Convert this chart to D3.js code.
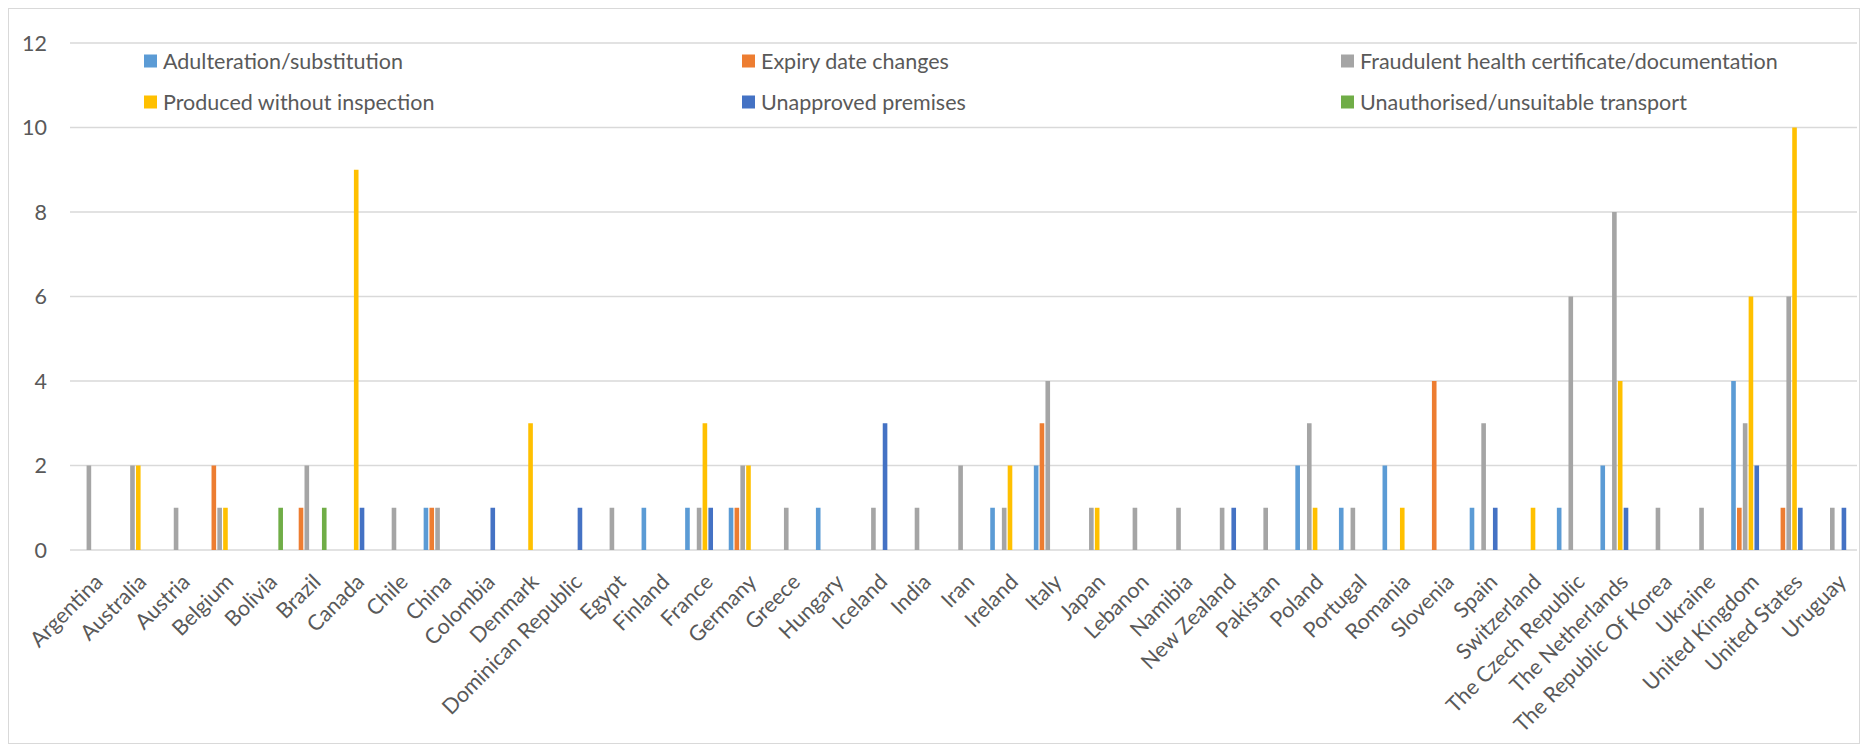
<!DOCTYPE html>
<html>
<head>
<meta charset="utf-8">
<script src="https://cdn.jsdelivr.net/npm/d3@7"></script>
<style>
  body { margin: 0; background: #fff; }
  svg text { font-family: Lato, "Liberation Sans", sans-serif; fill: #595959; font-size: 21.5px; }
</style>
</head>
<body>
<svg id="chart" width="1868" height="749"></svg>
<script>
const countries = ["Argentina", "Australia", "Austria", "Belgium", "Bolivia", "Brazil", "Canada", "Chile", "China", "Colombia", "Denmark", "Dominican Republic", "Egypt", "Finland", "France", "Germany", "Greece", "Hungary", "Iceland", "India", "Iran", "Ireland", "Italy", "Japan", "Lebanon", "Namibia", "New Zealand", "Pakistan", "Poland", "Portugal", "Romania", "Slovenia", "Spain", "Switzerland", "The Czech Republic", "The Netherlands", "The Republic Of Korea", "Ukraine", "United Kingdom", "United States", "Uruguay"];

const seriesNames = ["Adulteration/substitution", "Expiry date changes", "Fraudulent health certificate/documentation", "Produced without inspection", "Unapproved premises", "Unauthorised/unsuitable transport"];
const seriesColors = ["#5b9bd5", "#ed7d31", "#a5a5a5", "#ffc000", "#4472c4", "#70ad47"];

// one value per country, same order as countries
const adulteration = [0,0,0,0,0,0,0,0,1,0,0,0,0,1,1,1,0,1,0,0,0,1,2,0,0,0,0,0,2,1,2,0,1,0,1,2,0,0,4,0,0];
const expiry       = [0,0,0,2,0,1,0,0,1,0,0,0,0,0,0,1,0,0,0,0,0,0,3,0,0,0,0,0,0,0,0,4,0,0,0,0,0,0,1,1,0];
const fraudulent   = [2,2,1,1,0,2,0,1,1,0,0,0,1,0,1,2,1,0,1,1,2,1,4,1,1,1,1,1,3,1,0,0,3,0,6,8,1,1,3,6,1];
const noInspection = [0,2,0,1,0,0,9,0,0,0,3,0,0,0,3,2,0,0,0,0,0,2,0,1,0,0,0,0,1,0,1,0,0,1,0,4,0,0,6,10,0];
const unapproved   = [0,0,0,0,0,0,1,0,0,1,0,1,0,0,1,0,0,0,3,0,0,0,0,0,0,0,1,0,0,0,0,0,1,0,0,1,0,0,2,1,1];
const transport    = [0,0,0,0,1,1,0,0,0,0,0,0,0,0,0,0,0,0,0,0,0,0,0,0,0,0,0,0,0,0,0,0,0,0,0,0,0,0,0,0,0];

const yTicks = [0, 2, 4, 6, 8, 10, 12];

const allSeries = [adulteration, expiry, fraudulent, noInspection, unapproved, transport];
const rows = countries.map((c, i) => ({
  country: c,
  values: allSeries.map((s, k) => ({ key: k, value: s[i] }))
}));

const svg = d3.select("#chart");
const width = 1868, height = 749;
const plotLeft = 70, plotRight = 1857, plotTop = 43, plotBottom = 550;

// chart frame
svg.append("rect")
  .attr("x", 8.5).attr("y", 8.5)
  .attr("width", width - 17).attr("height", height - 14)
  .attr("fill", "#fff")
  .attr("stroke", "#d9d9d9");

const x0 = d3.scaleBand().domain(countries).range([plotLeft, plotRight]).paddingInner(0);
// Excel's default 150% gap width: 6 bars + 1.5 bar widths of gap per category
const groupW = x0.bandwidth() * 6 / 7.5;
const x1 = d3.scaleBand().domain(d3.range(6)).range([0, groupW]);
const y = d3.scaleLinear().domain([0, 12]).range([plotBottom, plotTop]);

// gridlines
svg.append("g")
  .selectAll("line")
  .data(yTicks)
  .enter()
  .append("line")
  .attr("x1", plotLeft).attr("x2", plotRight)
  .attr("y1", d => y(d)).attr("y2", d => y(d))
  .attr("stroke", "#d9d9d9")
  .attr("stroke-width", 1.5);

// y labels
svg.append("g")
  .selectAll("text")
  .data(yTicks)
  .enter()
  .append("text")
  .attr("x", 47)
  .attr("y", d => y(d))
  .attr("dy", "0.35em")
  .attr("text-anchor", "end")
  .text(d => d);

// bars
const groups = svg.append("g")
  .selectAll("g")
  .data(rows)
  .enter()
  .append("g")
  .attr("transform", d => `translate(${x0(d.country) + (x0.bandwidth() - groupW) / 2},0)`);

groups.selectAll("rect")
  .data(d => d.values.filter(v => v.value > 0))
  .enter()
  .append("rect")
  .attr("x", d => x1(d.key) + 0.6)
  .attr("width", x1.bandwidth() - 1.2)
  .attr("y", d => y(d.value))
  .attr("height", d => y(0) - y(d.value))
  .attr("fill", d => seriesColors[d.key]);

// x labels, rotated like Excel
svg.append("g")
  .selectAll("text")
  .data(countries)
  .enter()
  .append("text")
  .attr("transform", d => `translate(${x0(d) + x0.bandwidth() / 2 + 7}, 578) rotate(-45)`)
  .attr("text-anchor", "end")
  .attr("dy", "0.35em")
  .text(d => d);

// legend: 2 rows x 3 columns
const legendX = [144, 742, 1341];
const legendY = [61, 102];
const legend = svg.append("g")
  .selectAll("g")
  .data(seriesNames)
  .enter()
  .append("g")
  .attr("transform", (d, i) => `translate(${legendX[i % 3]}, ${legendY[Math.floor(i / 3)]})`);

legend.append("rect")
  .attr("x", 0).attr("y", -6.5)
  .attr("width", 13).attr("height", 13)
  .attr("fill", (d, i) => seriesColors[i]);

legend.append("text")
  .attr("x", 19)
  .attr("y", 0)
  .attr("dy", "0.35em")
  .text(d => d);
</script>
</body>
</html>
